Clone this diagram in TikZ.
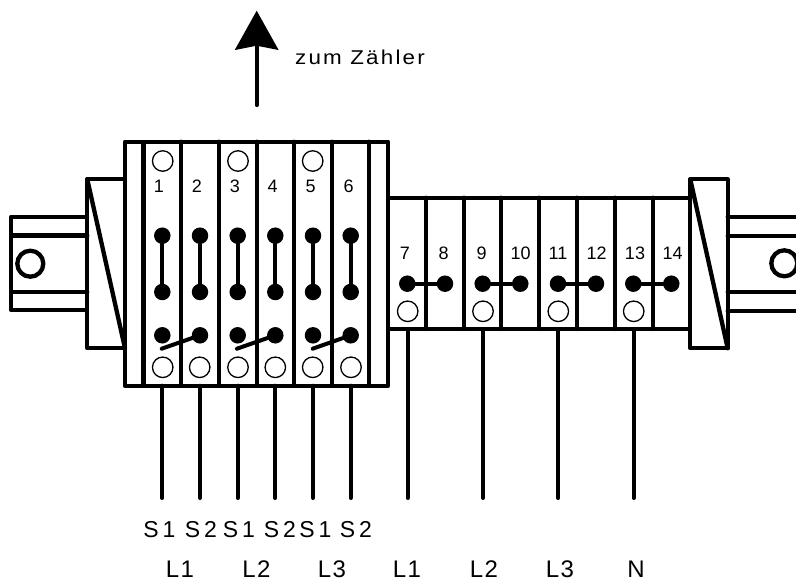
\documentclass[tikz,border=0pt]{standalone}
\usepackage{fontspec}
\setmainfont{Liberation Sans}
\newfontfamily\widefont[LetterSpace=17]{Liberation Sans}
\newfontfamily\linefont[LetterSpace=6]{Liberation Sans}
\newfontfamily\meterfont[LetterSpace=11,FakeStretch=1.12]{Liberation Sans}
\usetikzlibrary{arrows.meta}
\tikzset{
	part/.style = {line width=4.3pt, line join=round, line cap=round},
	wire/.style = {line width=4pt, line cap=round},
	hole/.style = {circle, draw, line width=1.3pt, fill=white, minimum size=20.5pt, inner sep=0pt},
	dot/.style = {circle, fill=black, minimum size=16.5pt, inner sep=0pt},
	num/.style = {font=\fontsize{18}{18}\selectfont, inner sep=0pt},
	lab/.style = {font=\widefont\fontsize{23}{23}\selectfont, inner sep=0pt, anchor=base},
	phase/.style = {font=\linefont\fontsize{24}{24}\selectfont, inner sep=0pt, anchor=base}
}
\begin{document}
\begin{tikzpicture}[x=1pt, y=-1pt]
		\useasboundingbox (0,0) rectangle (796,581);

		\draw [part] (11.3,216.7) rectangle (87.3,310.3);
		\draw [part] (11.3,235.5) -- (87.3,235.5);
		\draw [part] (11.3,291.8) -- (87.3,291.8);
		\draw [part] (87.3,179.3) rectangle (125,348.3);
		\draw [part] (87.3,179.3) -- (125,348.3);

		\draw [part] (796,216.7) -- (727.7,216.7);
		\draw [part] (796,235.7) -- (727.7,235.7);
		\draw [part] (796,292) -- (727.7,292);
		\draw [part] (796,310.7) -- (727.7,310.7);
		\draw [part] (690.3,179.3) rectangle (727.7,348.3);
		\draw [part] (690.3,179.3) -- (727.7,348.3);

		\draw [part] (125,141.7) rectangle (388.3,385.7);
		\draw [part, line width=5pt, line cap=butt] (143.3,141.7) -- (143.3,385.7);
		\draw [part] (181,141.7) -- (181,385.7);
		\draw [part] (219,141.7) -- (219,385.7);
		\draw [part] (256.7,141.7) -- (256.7,385.7);
		\draw [part] (294.3,141.7) -- (294.3,385.7);
		\draw [part] (332,141.7) -- (332,385.7);
		\draw [part] (369.3,141.7) -- (369.3,385.7);

		\draw [part] (388.3,197.7) rectangle (690.3,329);
		\draw [part] (426,197.7) -- (426,329);
		\draw [part] (464,197.7) -- (464,329);
		\draw [part] (501.3,197.7) -- (501.3,329);
		\draw [part] (539.3,197.7) -- (539.3,329);
		\draw [part] (577,197.7) -- (577,329);
		\draw [part] (614.7,197.7) -- (614.7,329);
		\draw [part] (652.7,197.7) -- (652.7,329);

		\node [circle, draw, line width=4.3pt, minimum size=26pt, inner sep=0pt] (holeL) at (30.3,263.7) {};
		\node [circle, draw, line width=4.3pt, minimum size=26pt, inner sep=0pt] (holeR) at (784.3,263.3) {};

		\node [hole] (ot1) at (162.7,161) {};
		\node [hole] (ot3) at (238,161) {};
		\node [hole] (ot5) at (312.7,161) {};

		\node [hole] (ob1) at (162.7,367.3) {};
		\node [hole] (ob2) at (199.7,367.3) {};
		\node [hole] (ob3) at (238,367.3) {};
		\node [hole] (ob4) at (275.3,367.3) {};
		\node [hole] (ob5) at (312.7,367.3) {};
		\node [hole] (ob6) at (351,367.3) {};

		\node [hole] (ol7) at (407.7,311.3) {};
		\node [hole] (ol9) at (483,311.3) {};
		\node [hole] (ol11) at (558.3,311.3) {};
		\node [hole] (ol13) at (633.7,311.3) {};

		\node [num] (n1) at (159,186.7) {1};
		\node [num] (n2) at (197,186.7) {2};
		\node [num] (n3) at (235,186.7) {3};
		\node [num] (n4) at (272.7,186.7) {4};
		\node [num] (n5) at (310.7,186.7) {5};
		\node [num] (n6) at (348.7,186.7) {6};
		\node [num] (n7) at (405,253.3) {7};
		\node [num] (n8) at (443.7,253.3) {8};
		\node [num] (n9) at (481.7,253.3) {9};
		\node [num] (n10) at (520.7,253.3) {10};
		\node [num] (n11) at (558,253.3) {11};
		\node [num] (n12) at (596.7,253.3) {12};
		\node [num] (n13) at (635,253.3) {13};
		\node [num] (n14) at (672.7,253.3) {14};

		\node [dot] (a1) at (162.3,235.7) {};
		\node [dot] (a2) at (200,235.7) {};
		\node [dot] (a3) at (237.7,235.7) {};
		\node [dot] (a4) at (275.3,235.7) {};
		\node [dot] (a5) at (313,235.7) {};
		\node [dot] (a6) at (350.7,235.7) {};

		\node [dot] (b1) at (162.3,292) {};
		\node [dot] (b2) at (200,292) {};
		\node [dot] (b3) at (237.7,292) {};
		\node [dot] (b4) at (275.3,292) {};
		\node [dot] (b5) at (313,292) {};
		\node [dot] (b6) at (350.7,292) {};

		\node [dot] (s1) at (162.3,335.3) {};
		\node [dot] (s2) at (200,335.3) {};
		\node [dot] (s3) at (237.7,335.3) {};
		\node [dot] (s4) at (275.3,335.3) {};
		\node [dot] (s5) at (313,335.3) {};
		\node [dot] (s6) at (350.7,335.3) {};

		\draw [wire] (a1) -- (b1);
		\draw [wire] (a2) -- (b2);
		\draw [wire] (a3) -- (b3);
		\draw [wire] (a4) -- (b4);
		\draw [wire] (a5) -- (b5);
		\draw [wire] (a6) -- (b6);

		\coordinate (k1) at (161.7,348.7);
		\coordinate (k3) at (237,348.7);
		\coordinate (k5) at (312.7,348.7);
		\draw [wire] (k1) -- (s2);
		\draw [wire] (k3) -- (s4);
		\draw [wire] (k5) -- (s6);

		\node [dot] (h7) at (407.3,283.7) {};
		\node [dot] (h8) at (445,283.7) {};
		\node [dot] (h9) at (482.7,283.7) {};
		\node [dot] (h10) at (520.3,283.7) {};
		\node [dot] (h11) at (558,283.7) {};
		\node [dot] (h12) at (596,283.7) {};
		\node [dot] (h13) at (633.3,283.7) {};
		\node [dot] (h14) at (671.3,283.7) {};

		\draw [wire] (h7) -- (h8);
		\draw [wire] (h9) -- (h10);
		\draw [wire] (h11) -- (h12);
		\draw [wire] (h13) -- (h14);

		\coordinate (wt) at (0,385.7);
		\coordinate (wm) at (0,329);
		\coordinate (we) at (0,498);
		\draw [wire] (s1 |- wt) -- (s1 |- we);
		\draw [wire] (s2 |- wt) -- (s2 |- we);
		\draw [wire] (s3 |- wt) -- (s3 |- we);
		\draw [wire] (s4 |- wt) -- (s4 |- we);
		\draw [wire] (s5 |- wt) -- (s5 |- we);
		\draw [wire] (s6 |- wt) -- (s6 |- we);
		\draw [wire] (ol7 |- wm) -- (ol7 |- we);
		\draw [wire] (ol9 |- wm) -- (ol9 |- we);
		\draw [wire] (ol11 |- wm) -- (ol11 |- we);
		\draw [wire] (ol13 |- wm) -- (ol13 |- we);

		\node [lab] (t1) at (159.5,537.5) {S1};
		\node [lab] (t2) at (201,537.5) {S2};
		\node [lab] (t3) at (239,537.5) {S1};
		\node [lab] (t4) at (280,537.5) {S2};
		\node [lab] (t5) at (315.5,537.5) {S1};
		\node [lab] (t6) at (356,537.5) {S2};

		\node [phase] (p1) at (180,577) {L1};
		\node [phase] (p2) at (256.5,577) {L2};
		\node [phase] (p3) at (332,577) {L3};
		\node [phase] (p4) at (407,577) {L1};
		\node [phase] (p5) at (484,577) {L2};
		\node [phase] (p6) at (560,577) {L3};
		\node [phase] (p7) at (636,577) {N};

		\coordinate (up0) at (256.7,105);
		\coordinate (up1) at (256.7,10.7);
		\draw [part, -{Stealth[length=39pt, width=43pt, inset=4pt]}] (up0) -- (up1);
		\node [lab, font=\meterfont\fontsize{20}{20}\selectfont, anchor=base west] (meter) at (295,64) {zum Zähler};
	\end{tikzpicture}
\end{document}
